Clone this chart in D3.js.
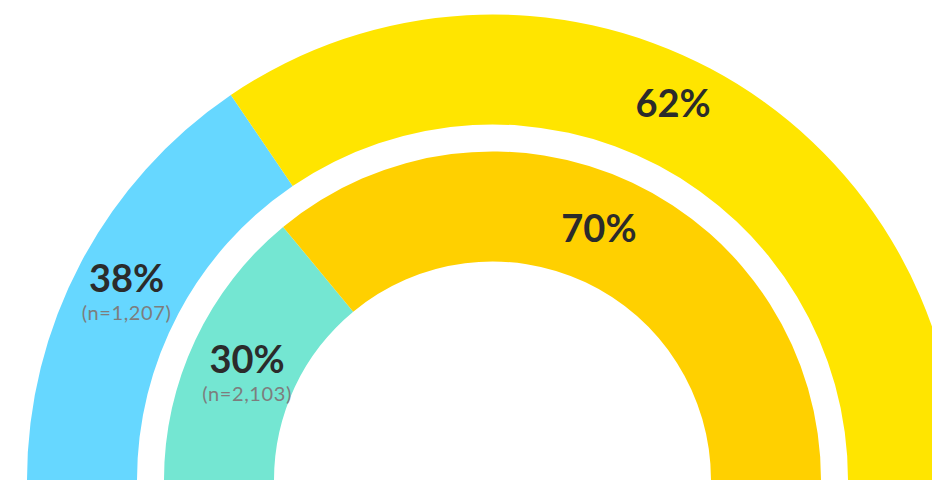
<!DOCTYPE html>
<html>
<head>
<meta charset="utf-8">
<script src="https://cdn.jsdelivr.net/npm/d3@7"></script>
<style>
  html, body { margin: 0; padding: 0; background: #fff; overflow: hidden; }
  svg { display: block; }
  .pct { font-family: Lato, "Noto Sans", sans-serif; font-weight: 700; fill: #2b2b2b; }
  .n { font-family: Lato, "Noto Sans", sans-serif; font-weight: 400; fill: #7d7d7d; letter-spacing: 0.6px; }
</style>
</head>
<body>
<svg width="932" height="484"></svg>
<script>
// rings, outer first
var rings = ["outer", "inner"];
// label percentages as printed
var outerPct = [38, 62];
var innerPct = [30, 70];
// share of the half circle each slice actually covers in the picture
var outerShare = [31, 69];
var innerShare = [28, 72];
var outerN = ["(n=1,207)", null];
var innerN = ["(n=2,103)", null];
var outerColors = ["#66d7ff", "#ffe500"];
var innerColors = ["#74e6d2", "#ffd000"];

var svg = d3.select("svg"),
  width = +svg.attr("width"),
  height = +svg.attr("height");

var cx = 492.5, cy = 480;

var radii = {
  outer: [355.5, 465.5],
  inner: [218.5, 328.5]
};
var labelR = { outer: 418, inner: 273.5 };
// labels sit a little closer to the top than the slice middle
var deg = Math.PI / 180;

var data = {
  outer: outerShare.map(function(s, i) { return { share: s, pct: outerPct[i], n: outerN[i], color: outerColors[i] }; }),
  inner: innerShare.map(function(s, i) { return { share: s, pct: innerPct[i], n: innerN[i], color: innerColors[i] }; })
};

var pie = d3.pie()
  .sort(null)
  .value(function(d) { return d.share; })
  .startAngle(-Math.PI / 2)
  .endAngle(Math.PI / 2);

var g = svg.append("g")
  .attr("transform", "translate(" + cx + "," + cy + ")");

rings.forEach(function(ring) {
  var arcs = pie(data[ring]);
  var arc = d3.arc()
    .innerRadius(radii[ring][0])
    .outerRadius(radii[ring][1]);

  g.append("g")
    .selectAll("path")
    .data(arcs)
    .enter().append("path")
    .attr("d", arc)
    .attr("fill", function(d) { return d.data.color; });

  var lab = g.append("g")
    .selectAll("g")
    .data(arcs)
    .enter().append("g")
    .attr("transform", function(d) {
      var a = (d.startAngle + d.endAngle) / 2;
      var shift = (d.data.n ? 1 : 2.3) * deg;
      a = a - Math.sign(a) * shift;
      var r = labelR[ring];
      return "translate(" + (r * Math.sin(a)) + "," + (-r * Math.cos(a)) + ")";
    });

  lab.append("text")
    .attr("class", "pct")
    .attr("text-anchor", "middle")
    .attr("font-size", 38)
    .attr("y", 14)
    .text(function(d) { return d.data.pct + "%"; });

  lab.filter(function(d) { return d.data.n; })
    .append("text")
    .attr("class", "n")
    .attr("text-anchor", "middle")
    .attr("font-size", 20)
    .attr("y", 42)
    .text(function(d) { return d.data.n; });
});
</script>
</body>
</html>
